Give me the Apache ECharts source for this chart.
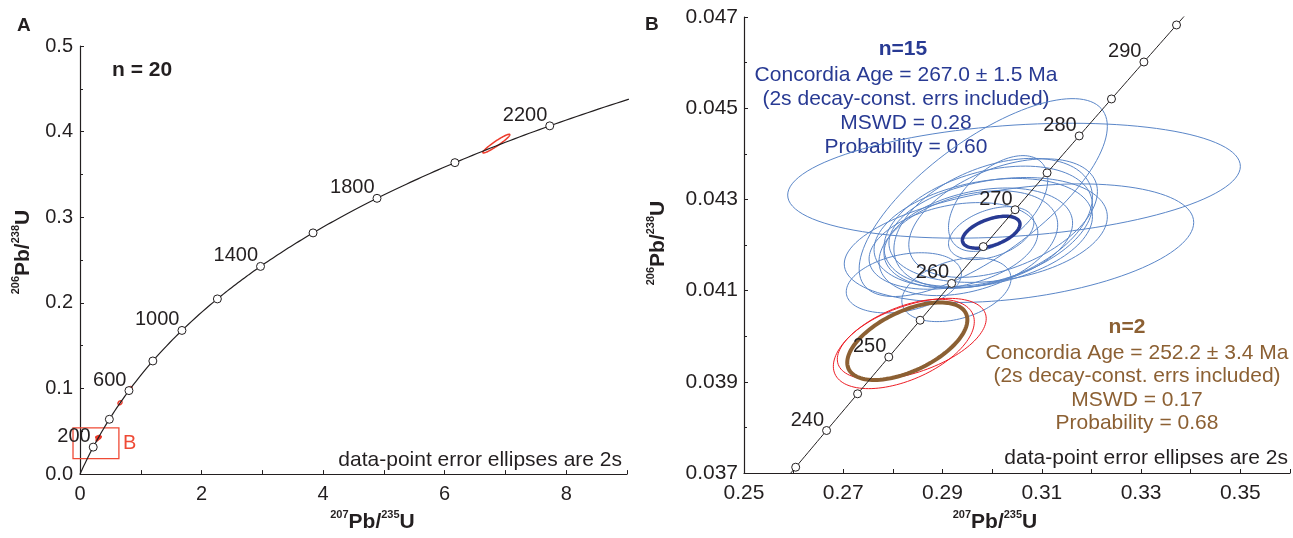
<!DOCTYPE html>
<html>
<head>
<meta charset="utf-8">
<script src="https://cdn.jsdelivr.net/npm/echarts@6/dist/echarts.min.js"></script>
<style>
html, body { margin: 0; padding: 0; background: #fff; }
#main { width: 1293px; height: 538px; }
</style>
</head>
<body>
<div id="main"></div>
<script>
// decay constants (1/yr), concordia is built from them
const L238 = 1.55125e-10
const L235 = 9.8485e-10

// age markers on the concordia (Ma)
const agesA = [200, 400, 600, 800, 1000, 1200, 1400, 1600, 1800, 2000, 2200]
const labelsA = [200, 600, 1000, 1400, 1800, 2200]
const agesB = [235, 240, 245, 250, 255, 260, 265, 270, 275, 280, 285, 290, 295]
const labelsB = [240, 250, 260, 270, 280, 290]

// error ellipses: [207Pb/235U, 206Pb/238U, 2s x, 2s y, rho]
const blueB = [
  [0.3044, 0.04341, 0.0456, 0.00126, 0.25],
  [0.2982, 0.04304, 0.0250, 0.00217, 0.72],
  [0.3054, 0.04204, 0.0352, 0.00130, 0.35],
  [0.2992, 0.04241, 0.0210, 0.00132, 0.35],
  [0.2982, 0.04226, 0.0220, 0.00120, 0.30],
  [0.3002, 0.04248, 0.0200, 0.00142, 0.40],
  [0.2972, 0.04215, 0.0190, 0.00110, 0.30],
  [0.3012, 0.04233, 0.0220, 0.00115, 0.25],
  [0.2952, 0.04204, 0.0180, 0.00115, 0.35],
  [0.3022, 0.04259, 0.0190, 0.00130, 0.45],
  [0.2822, 0.04117, 0.0116, 0.00066, 0.30],
  [0.2928, 0.04102, 0.0110, 0.00070, 0.35],
  [0.2998, 0.04226, 0.0086, 0.00058, 0.40],
  [0.3012, 0.04291, 0.0100, 0.00105, 0.50],
  [0.2922, 0.04198, 0.0170, 0.00095, 0.30]
]
const redB = [
  [0.2822, 0.03983, 0.0142, 0.00098, 0.50],
  [0.2838, 0.03994, 0.0150, 0.00089, 0.50]
]
const meanBlue = [[0.2998, 0.04228, 0.0058, 0.00035, 0.50]]
const meanBrown = [[0.2829, 0.03989, 0.0121, 0.00085, 0.55]]
const otherA = [
  [6.85, 0.386, 0.222, 0.0109, 0.95],
  [0.823, 0.0999, 0.033, 0.0023, 0.3],
  [0.658, 0.0833, 0.033, 0.0023, 0.3]
]
// zoom box drawn on panel A: [x0, y0, x1, y1]
const boxB = [[-0.115, 0.018, 0.64, 0.054]]

const FONT = "'Liberation Sans', Arial, sans-serif"
const INK = '#231f20'

const conc = t => [Math.exp(L235 * t * 1e6) - 1, Math.exp(L238 * t * 1e6) - 1]
const curve = (t0, t1, step) => {
  const out = []
  for (let t = t0; t <= t1; t += step) out.push(conc(t))
  return out
}
const markers = ages => ages.map(t => conc(t).concat([t]))

const ellipseItem = (color, width) => (params, api) => {
  const cx = api.value(0), cy = api.value(1), sx = api.value(2), sy = api.value(3), r = api.value(4)
  const q = Math.sqrt(1 - r * r)
  const pts = []
  for (let i = 0; i < 120; i++) {
    const a = i / 120 * Math.PI * 2
    pts.push(api.coord([cx + sx * Math.cos(a), cy + sy * (r * Math.cos(a) + q * Math.sin(a))]))
  }
  return {type: 'polygon', shape: {points: pts}, style: {fill: 'transparent', stroke: color, lineWidth: width}}
}

const ellipses = (data, idx, color, width) => ({
  type: 'custom',
  xAxisIndex: idx,
  yAxisIndex: idx,
  silent: true,
  encode: {x: 0, y: 1},
  data: data,
  renderItem: ellipseItem(color, width)
})

const markerSeries = (ages, labels, idx) => ({
  type: 'scatter',
  xAxisIndex: idx,
  yAxisIndex: idx,
  silent: true,
  z: 5,
  symbol: 'circle',
  symbolSize: 8,
  itemStyle: {color: '#fff', borderColor: INK, borderWidth: 1, opacity: 1},
  label: {
    show: true,
    position: [2, -6],
    align: 'right',
    verticalAlign: 'middle',
    fontFamily: FONT,
    fontSize: 20,
    color: INK,
    formatter: p => labels.includes(p.value[2]) ? String(p.value[2]) : ''
  },
  data: markers(ages)
})

const axisName = (a, b) => '{s|' + a + '}{m|Pb/}{s|' + b + '}{m|U}'
const nameStyle = padding => ({
  padding: padding,
  rich: {
    s: {fontFamily: FONT, fontSize: 11, fontWeight: 'bold', color: INK, verticalAlign: 'top', lineHeight: 14},
    m: {fontFamily: FONT, fontSize: 21, fontWeight: 'bold', color: INK, verticalAlign: 'bottom', lineHeight: 24}
  }
})

const baseAxis = (size) => ({
  type: 'value',
  axisLine: {onZero: false, lineStyle: {color: INK, width: 1.2}},
  axisTick: {inside: true, length: 4, lineStyle: {color: INK}},
  minorTick: {show: false},
  splitLine: {show: false},
  axisLabel: {fontFamily: FONT, fontSize: size, color: INK}
})

const chart = echarts.init(document.getElementById('main'))

chart.setOption({
  animation: false,
  backgroundColor: '#fff',
  grid: [
    {left: 80, top: 46, width: 547, height: 434},
    {left: 744, top: 17, width: 549, height: 460}
  ],
  xAxis: [
    Object.assign(baseAxis(20), {
      gridIndex: 0, min: 0, max: 9, interval: 1,
      axisLabel: {fontFamily: FONT, fontSize: 20, color: INK, margin: 10,
        formatter: v => Math.round(v) % 2 === 0 ? String(Math.round(v)) : ''},
      name: axisName('207', '235'), nameLocation: 'middle', nameGap: 30,
      nameTextStyle: nameStyle([0, 0, 0, 38])
    }),
    Object.assign(baseAxis(21), {
      gridIndex: 1, min: 0.25, max: 0.36, interval: 0.01,
      axisLabel: {fontFamily: FONT, fontSize: 21, color: INK, margin: 10,
        formatter: v => {
          const k = Math.round(v * 100)
          return k % 2 === 1 ? (k / 100).toFixed(2) : ''
        }},
      name: axisName('207', '235'), nameLocation: 'middle', nameGap: 36,
      nameTextStyle: nameStyle([0, 44, 0, 0])
    })
  ],
  yAxis: [
    Object.assign(baseAxis(20), {
      gridIndex: 0, min: 0, max: 0.5, interval: 0.1,
      minorTick: {show: true, splitNumber: 2, length: 3, lineStyle: {color: INK}},
      axisLabel: {fontFamily: FONT, fontSize: 20, color: INK, margin: 7, formatter: v => v.toFixed(1)},
      name: axisName('206', '238'), nameLocation: 'middle', nameGap: 46, nameRotate: 90,
      nameTextStyle: nameStyle([0, 0, 0, 16])
    }),
    Object.assign(baseAxis(21), {
      gridIndex: 1, min: 0.037, max: 0.047, interval: 0.002,
      minorTick: {show: true, splitNumber: 2, length: 3, lineStyle: {color: INK}},
      axisLabel: {fontFamily: FONT, fontSize: 21, color: INK, margin: 6, formatter: v => v.toFixed(3)},
      name: axisName('206', '238'), nameLocation: 'middle', nameGap: 75, nameRotate: 90,
      nameTextStyle: nameStyle([0, 0, 0, 4])
    })
  ],
  graphic: [
    {type: 'text', x: 17, y: 26, style: {text: 'A', font: 'bold 19px ' + FONT, fill: INK, textVerticalAlign: 'middle', verticalAlign: 'middle'}},
    {type: 'text', x: 645, y: 25, style: {text: 'B', font: 'bold 19px ' + FONT, fill: INK, textVerticalAlign: 'middle', verticalAlign: 'middle'}},
    {type: 'text', x: 112, y: 70, style: {text: 'n = 20', font: 'bold 21px ' + FONT, fill: INK, textVerticalAlign: 'middle', verticalAlign: 'middle'}},
    {type: 'text', x: 622, y: 460, style: {text: 'data-point error ellipses are 2s', font: '21px ' + FONT, fill: INK,
      textAlign: 'right', align: 'right', textVerticalAlign: 'middle', verticalAlign: 'middle'}},
    {type: 'text', x: 1288, y: 458, style: {text: 'data-point error ellipses are 2s', font: '21px ' + FONT, fill: INK,
      textAlign: 'right', align: 'right', textVerticalAlign: 'middle', verticalAlign: 'middle'}},
    {type: 'text', x: 903, y: 49, style: {text: 'n=15', font: 'bold 21px ' + FONT, fill: '#283a93',
      textAlign: 'center', align: 'center', textVerticalAlign: 'middle', verticalAlign: 'middle'}},
    {type: 'text', x: 906, y: 63, style: {
      text: 'Concordia Age = 267.0 ± 1.5 Ma\n(2s decay-const. errs included)\nMSWD = 0.28\nProbability = 0.60',
      font: '21px ' + FONT, lineHeight: 24, fill: '#283a93',
      textAlign: 'center', align: 'center', textVerticalAlign: 'top', verticalAlign: 'top'}},
    {type: 'text', x: 1127, y: 327, style: {text: 'n=2', font: 'bold 21px ' + FONT, fill: '#8c6033',
      textAlign: 'center', align: 'center', textVerticalAlign: 'middle', verticalAlign: 'middle'}},
    {type: 'text', x: 1137, y: 341, style: {
      text: 'Concordia Age = 252.2 ± 3.4 Ma\n(2s decay-const. errs included)\nMSWD = 0.17\nProbability = 0.68',
      font: '21px ' + FONT, lineHeight: 23.5, fill: '#8c6033',
      textAlign: 'center', align: 'center', textVerticalAlign: 'top', verticalAlign: 'top'}}
  ],
  series: [
    // panel A
    ellipses(blueB.concat(redB), 0, '#ed3a2a', 1.5),
    ellipses(otherA, 0, '#ed3a2a', 1.5),
    {
      type: 'custom',
      xAxisIndex: 0,
      yAxisIndex: 0,
      silent: true,
      clip: false,
      encode: {x: 0, y: 1},
      data: boxB,
      renderItem: (params, api) => {
        const p0 = api.coord([api.value(0), api.value(3)])
        const p1 = api.coord([api.value(2), api.value(1)])
        return {
          type: 'group',
          children: [
            {type: 'rect', shape: {x: p0[0], y: p0[1], width: p1[0] - p0[0], height: p1[1] - p0[1]},
              style: {fill: 'transparent', stroke: '#ef4a35', lineWidth: 1.3}},
            {type: 'text', x: p1[0] + 4, y: (p0[1] + p1[1]) / 2,
              style: {text: 'B', fill: '#ef4a35', font: '20px ' + FONT, textVerticalAlign: 'middle', verticalAlign: 'middle'}}
          ]
        }
      }
    },
    {
      type: 'line', xAxisIndex: 0, yAxisIndex: 0, silent: true, showSymbol: false, z: 3,
      lineStyle: {color: INK, width: 1.2},
      data: curve(0, 2400, 10)
    },
    markerSeries(agesA, labelsA, 0),
    // panel B
    ellipses(blueB, 1, '#5a86c8', 1),
    ellipses(redB, 1, '#ed1c24', 1),
    ellipses(meanBrown, 1, '#8c6033', 4),
    ellipses(meanBlue, 1, '#283a93', 3.5),
    {
      type: 'line', xAxisIndex: 1, yAxisIndex: 1, silent: true, showSymbol: false, z: 3,
      lineStyle: {color: INK, width: 1},
      data: curve(228, 300, 0.5)
    },
    markerSeries(agesB, labelsB, 1)
  ]
})
</script>
</body>
</html>
